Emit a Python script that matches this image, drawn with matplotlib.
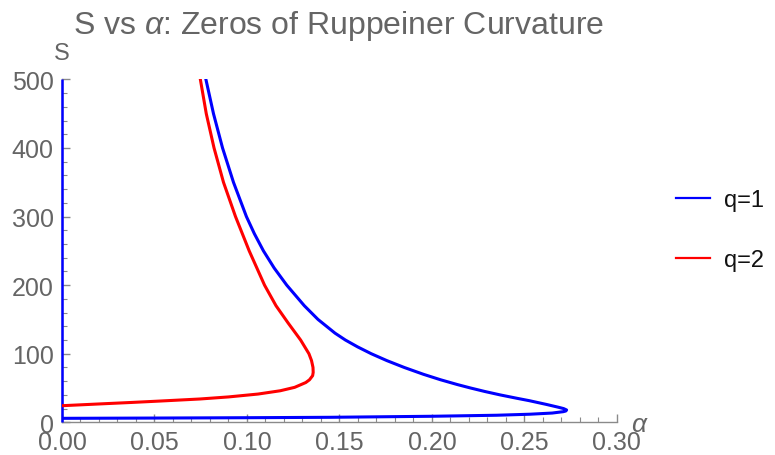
import matplotlib
matplotlib.use("Agg")
import matplotlib.pyplot as plt
from matplotlib.ticker import MultipleLocator

plt.rcParams['font.family'] = ['Liberation Sans', 'DejaVu Sans']
plt.rcParams['mathtext.fontset'] = 'custom'
plt.rcParams['mathtext.it'] = 'Liberation Sans:italic'
plt.rcParams['mathtext.rm'] = 'Liberation Sans'

# q=1 curve (S, alpha pairs: upper branch, nose, lower branch)
S_q1 = [500, 450, 400, 350, 300, 275, 250, 225, 200, 170, 150, 130, 120, 110,
        100, 90, 80, 70, 62, 55, 50, 45, 40, 35, 31.5, 26, 22, 20, 18,
        16.5, 15.5, 13.5, 11.8, 10.3, 8.8, 7.3, 6.7, 6.2, 5.8]
a_q1 = [0.0778, 0.0819, 0.0868, 0.0927, 0.0997, 0.1040, 0.1089, 0.1147, 0.1215,
        0.131, 0.1384, 0.1476, 0.1532, 0.1598, 0.1672, 0.1756, 0.185, 0.1954,
        0.2047, 0.2138, 0.2209, 0.2285, 0.2368, 0.246, 0.2527, 0.262, 0.2683,
        0.2712, 0.2728, 0.2724, 0.271, 0.265, 0.253, 0.235, 0.20, 0.145, 0.10,
        0.05, 0.0]
# q=1 branch lying on alpha = 0
S_q1_axis = [0, 500]
a_q1_axis = [0.0, 0.0]

# q=2 curve
S_q2 = [500, 450, 400, 350, 300, 250, 200, 170, 145, 120, 100, 90, 80, 72.8,
        68, 62, 58, 51, 46, 41.2, 37, 34, 31, 29, 27, 25.5, 24.2]
a_q2 = [0.0748, 0.0780, 0.0822, 0.0873, 0.0938, 0.1012, 0.1095, 0.1157, 0.1222,
        0.1290, 0.1335, 0.1349, 0.1357, 0.1358, 0.1355, 0.1338, 0.1318, 0.1258,
        0.118, 0.106, 0.090, 0.0746, 0.053, 0.038, 0.022, 0.0102, 0.0]

x_ticks = [0.00, 0.05, 0.10, 0.15, 0.20, 0.25, 0.30]
y_ticks = [0, 100, 200, 300, 400, 500]

gray = '#656565'
axis_gray = '#8a8a8a'
fig = plt.figure(figsize=(7.75, 4.56), dpi=100)
ax = fig.add_axes([0.08, 0.0717, 0.716, 0.752])

ax.plot(a_q1_axis, S_q1_axis, color=(0, 0, 1), lw=1.8, solid_capstyle='butt',
        clip_on=False, zorder=3)
ax.plot(a_q1, S_q1, color=(0, 0, 1), lw=2.2, label='q=1', zorder=3,
        solid_joinstyle='round')
ax.plot(a_q2, S_q2, color=(1, 0, 0), lw=2.2, label='q=2', zorder=3,
        solid_joinstyle='round')

ax.set_xlim(0, 0.30)
ax.set_ylim(0, 500)
ax.set_xticks(x_ticks)
ax.set_xticklabels([f"{v:.2f}" for v in x_ticks])
ax.set_yticks(y_ticks)
ax.set_yticklabels([str(v) for v in y_ticks])
ax.xaxis.set_minor_locator(MultipleLocator(0.01))
ax.yaxis.set_minor_locator(MultipleLocator(20))

for s in ['top', 'right']:
    ax.spines[s].set_visible(False)
for s in ['left', 'bottom']:
    ax.spines[s].set_color(axis_gray)
    ax.spines[s].set_linewidth(1.0)

ax.tick_params(axis='both', which='major', direction='in', length=6, width=1,
               color=axis_gray, labelsize=18, labelcolor=gray)
ax.tick_params(axis='x', which='major', pad=5.5)
ax.tick_params(axis='y', which='major', pad=6)
ax.tick_params(axis='both', which='minor', direction='in', length=3.5, width=0.8,
               color=axis_gray)

ax.text(0.0, 1.045, 'S', transform=ax.transAxes, fontsize=17, color=gray,
        ha='center', va='bottom')
ax.text(1.025, -0.04, r'$\alpha$', transform=ax.transAxes, fontsize=19, color=gray,
        ha='left', va='bottom')

fig.text(73 / 775, 1 - 34 / 456, r'S vs $\alpha$: Zeros of Ruppeiner Curvature',
         fontsize=23, color=gray, ha='left', va='baseline')

leg = fig.legend(loc='center left', bbox_to_anchor=(676 / 775, 1 - 231 / 456),
                 frameon=False, fontsize=17, handlelength=1.45, labelspacing=1.6,
                 handletextpad=0.6, borderpad=0, borderaxespad=0)
for line in leg.get_lines():
    line.set_linewidth(1.6)
for t in leg.get_texts():
    t.set_color('#111111')

fig.savefig('out.png', dpi=100)
